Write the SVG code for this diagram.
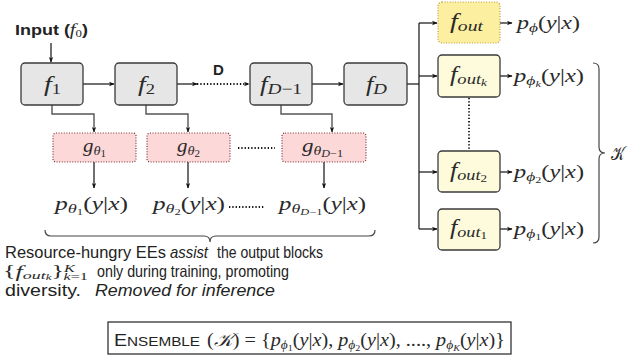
<svg xmlns="http://www.w3.org/2000/svg" width="637" height="360" viewBox="0 0 637 360">
<style>
.fb{fill:#e6e6e6;stroke:#3a3a3a;stroke-width:1.3}
.gb{fill:#fdd8d8;stroke:#7a3030;stroke-width:1.2;stroke-dasharray:1,1.6}
.ob{fill:#fdfbdc;stroke:#3a3a3a;stroke-width:1.3}
.ot{fill:#fcef9f;stroke:#b89c3c;stroke-width:1.2;stroke-dasharray:1,1.6}
.m{font-family:"Liberation Serif","DejaVu Serif",serif;font-style:italic;fill:#2a2a2a}
.r{font-family:"Liberation Serif","DejaVu Serif",serif;font-style:normal;fill:#2a2a2a}
.s{font-family:"Liberation Sans","DejaVu Sans",sans-serif;fill:#222}
.c{fill:none;stroke:#111;stroke-width:1.2}
.g{fill:none;stroke:#555;stroke-width:1.4}
.dt{fill:none;stroke:#111;stroke-width:1.8;stroke-dasharray:1.3,2}
</style>
<defs>
<marker id="ah" viewBox="0 0 10 10" refX="9" refY="5" markerWidth="5.5" markerHeight="5.5" orient="auto" markerUnits="userSpaceOnUse">
<path d="M0,1 L10,5 L0,9 L2.5,5 Z" fill="#111"/>
</marker>
</defs>

<g id="input-label">
<text x="15" y="35" class="s" font-size="14" font-weight="bold" textLength="73" lengthAdjust="spacingAndGlyphs">Input (<tspan class="m" font-weight="normal" font-size="16">f</tspan><tspan class="r" font-weight="normal" font-size="10" dy="2">0</tspan><tspan dy="-2">)</tspan></text>
</g>

<g id="connectors">
<line x1="51" y1="43" x2="51" y2="62" class="c" marker-end="url(#ah)"/>
<line x1="83" y1="84" x2="114" y2="84" class="c" marker-end="url(#ah)"/>
<line x1="177" y1="84" x2="197" y2="84" class="c" marker-end="url(#ah)"/>
<line x1="197" y1="84" x2="249" y2="84" class="dt" marker-end="url(#ah)"/>
<line x1="312" y1="84" x2="343" y2="84" class="c" marker-end="url(#ah)"/>
<polyline points="52,105 52,114 94,114 94,132" class="g" marker-end="url(#ah)"/>
<polyline points="146,105 146,114 188,114 188,132" class="g" marker-end="url(#ah)"/>
<polyline points="281,105 281,114 332,114 332,132" class="g" marker-end="url(#ah)"/>
<line x1="94" y1="162" x2="94" y2="188" class="c" marker-end="url(#ah)"/>
<line x1="188" y1="162" x2="188" y2="188" class="c" marker-end="url(#ah)"/>
<line x1="324" y1="162" x2="324" y2="188" class="c" marker-end="url(#ah)"/>
<line x1="238" y1="148" x2="275" y2="148" class="dt"/>
<line x1="229" y1="207" x2="264" y2="207" class="dt"/>
<polyline points="407,84 419,84" class="c"/>
<line x1="419" y1="23" x2="419" y2="229" class="c"/>
<line x1="419" y1="23" x2="437" y2="23" class="c" marker-end="url(#ah)"/>
<line x1="419" y1="76" x2="437" y2="76" class="c" marker-end="url(#ah)"/>
<line x1="419" y1="172" x2="437" y2="172" class="c" marker-end="url(#ah)"/>
<line x1="419" y1="229" x2="437" y2="229" class="c" marker-end="url(#ah)"/>
<line x1="500" y1="23" x2="512" y2="23" class="c" marker-end="url(#ah)"/>
<line x1="500" y1="76" x2="512" y2="76" class="c" marker-end="url(#ah)"/>
<line x1="500" y1="172" x2="512" y2="172" class="c" marker-end="url(#ah)"/>
<line x1="500" y1="229" x2="512" y2="229" class="c" marker-end="url(#ah)"/>
<line x1="469" y1="98" x2="469" y2="150" class="dt" stroke-width="2.2"/>
</g>

<text x="213" y="75" class="s" font-size="15" font-weight="bold">D</text>

<g id="f1"><rect x="21" y="63" width="62" height="42" rx="4" class="fb"/>
<text x="44" y="91" class="m" font-size="21" textLength="17" lengthAdjust="spacingAndGlyphs">f<tspan class="r" font-size="14" dy="3">1</tspan></text></g>
<g id="f2"><rect x="115" y="63" width="62" height="42" rx="4" class="fb"/>
<text x="138" y="91" class="m" font-size="21" textLength="17" lengthAdjust="spacingAndGlyphs">f<tspan class="r" font-size="14" dy="3">2</tspan></text></g>
<g id="fD-1"><rect x="250" y="63" width="62" height="42" rx="4" class="fb"/>
<text x="260" y="91" class="m" font-size="21" textLength="42" lengthAdjust="spacingAndGlyphs">f<tspan font-size="15" dy="3">D</tspan><tspan class="r" font-size="15">−1</tspan></text></g>
<g id="fD"><rect x="344" y="63" width="63" height="42" rx="4" class="fb"/>
<text x="366" y="91" class="m" font-size="21" textLength="21" lengthAdjust="spacingAndGlyphs">f<tspan font-size="15" dy="3">D</tspan></text></g>

<g id="g1"><rect x="53" y="133" width="83" height="29" rx="3" class="gb"/>
<text x="83" y="152" class="m" font-size="19" textLength="23" lengthAdjust="spacingAndGlyphs">g<tspan font-size="13" dy="3">θ</tspan><tspan class="r" font-size="10" dy="2">1</tspan></text></g>
<g id="g2"><rect x="147" y="133" width="83" height="29" rx="3" class="gb"/>
<text x="177" y="152" class="m" font-size="19" textLength="23" lengthAdjust="spacingAndGlyphs">g<tspan font-size="13" dy="3">θ</tspan><tspan class="r" font-size="10" dy="2">2</tspan></text></g>
<g id="gD-1"><rect x="282" y="133" width="84" height="29" rx="3" class="gb"/>
<text x="302" y="152" class="m" font-size="19" textLength="41" lengthAdjust="spacingAndGlyphs">g<tspan font-size="13" dy="3">θ</tspan><tspan font-size="10" dy="2">D</tspan><tspan class="r" font-size="10">−1</tspan></text></g>

<g id="p-theta">
<text x="55" y="210" class="m" font-size="18" textLength="73" lengthAdjust="spacingAndGlyphs">p<tspan font-size="13" dy="3">θ</tspan><tspan class="r" font-size="9" dy="2">1</tspan><tspan class="r" dy="-5">(</tspan>y<tspan class="r">|</tspan>x<tspan class="r">)</tspan></text>
<text x="153" y="210" class="m" font-size="18" textLength="72" lengthAdjust="spacingAndGlyphs">p<tspan font-size="13" dy="3">θ</tspan><tspan class="r" font-size="9" dy="2">2</tspan><tspan class="r" dy="-5">(</tspan>y<tspan class="r">|</tspan>x<tspan class="r">)</tspan></text>
<text x="279" y="210" class="m" font-size="18" textLength="87" lengthAdjust="spacingAndGlyphs">p<tspan font-size="13" dy="3">θ</tspan><tspan font-size="9" dy="2">D</tspan><tspan class="r" font-size="9">−1</tspan><tspan class="r" dy="-5">(</tspan>y<tspan class="r">|</tspan>x<tspan class="r">)</tspan></text>
</g>

<g id="fout"><rect x="438" y="2" width="62" height="41" rx="4" class="ot"/>
<text x="450" y="28" class="m" font-size="20" textLength="33" lengthAdjust="spacingAndGlyphs">f<tspan font-size="14" dy="3">out</tspan></text></g>
<g id="foutk"><rect x="438" y="55" width="62" height="42" rx="4" class="ob"/>
<text x="450" y="81" class="m" font-size="20" textLength="37" lengthAdjust="spacingAndGlyphs">f<tspan font-size="14" dy="3">out</tspan><tspan font-size="10" dy="2">k</tspan></text></g>
<g id="fout2"><rect x="438" y="151" width="62" height="41" rx="4" class="ob"/>
<text x="450" y="177" class="m" font-size="20" textLength="37" lengthAdjust="spacingAndGlyphs">f<tspan font-size="14" dy="3">out</tspan><tspan class="r" font-size="10" dy="2">2</tspan></text></g>
<g id="fout1"><rect x="438" y="209" width="62" height="41" rx="4" class="ob"/>
<text x="450" y="234" class="m" font-size="20" textLength="37" lengthAdjust="spacingAndGlyphs">f<tspan font-size="14" dy="3">out</tspan><tspan class="r" font-size="10" dy="2">1</tspan></text></g>

<g id="p-phi">
<text x="517" y="29" class="m" font-size="18" textLength="63" lengthAdjust="spacingAndGlyphs">p<tspan font-size="13" dy="3">ϕ</tspan><tspan class="r" dy="-3">(</tspan>y<tspan class="r">|</tspan>x<tspan class="r">)</tspan></text>
<text x="514" y="82" class="m" font-size="18" textLength="70" lengthAdjust="spacingAndGlyphs">p<tspan font-size="13" dy="3">ϕ</tspan><tspan font-size="9" dy="2">k</tspan><tspan class="r" dy="-5">(</tspan>y<tspan class="r">|</tspan>x<tspan class="r">)</tspan></text>
<text x="514" y="178" class="m" font-size="18" textLength="70" lengthAdjust="spacingAndGlyphs">p<tspan font-size="13" dy="3">ϕ</tspan><tspan class="r" font-size="9" dy="2">2</tspan><tspan class="r" dy="-5">(</tspan>y<tspan class="r">|</tspan>x<tspan class="r">)</tspan></text>
<text x="514" y="235" class="m" font-size="18" textLength="70" lengthAdjust="spacingAndGlyphs">p<tspan font-size="13" dy="3">ϕ</tspan><tspan class="r" font-size="9" dy="2">1</tspan><tspan class="r" dy="-5">(</tspan>y<tspan class="r">|</tspan>x<tspan class="r">)</tspan></text>
</g>

<g id="braces">
<path d="M593,63 Q599,63 599,69 L599,147 Q599,153 605,153 Q599,153 599,159 L599,237 Q599,243 593,243" fill="none" stroke="#444" stroke-width="1.2"/>
<text x="611" y="160" class="r" font-size="19" textLength="14" lengthAdjust="spacingAndGlyphs">𝒦</text>
<path d="M45,230 Q45,236 51,236 L204,236 Q210,236 210,242 Q210,236 216,236 L369,236 Q375,236 375,230" fill="none" stroke="#444" stroke-width="1.2"/>
</g>

<g id="caption">
<text x="5" y="258" class="s" font-size="16.5" textLength="161" lengthAdjust="spacingAndGlyphs">Resource-hungry EEs</text>
<text x="170" y="258" class="s" font-size="16.5" font-style="italic" textLength="38" lengthAdjust="spacingAndGlyphs">assist</text>
<text x="217" y="258" class="s" font-size="16.5" textLength="106" lengthAdjust="spacingAndGlyphs">the output blocks</text>
<text x="3" y="277" class="r" font-size="16" textLength="85" lengthAdjust="spacingAndGlyphs">{<tspan class="m">f</tspan><tspan class="m" font-size="11" dy="2">out</tspan><tspan class="m" font-size="8" dy="1">k</tspan><tspan dy="-3">}</tspan><tspan class="m" font-size="10" dy="-5">K</tspan><tspan class="m" font-size="10" dx="-7" dy="8">k</tspan><tspan font-size="10">=1</tspan></text>
<text x="97" y="277" class="s" font-size="16.5" textLength="192" lengthAdjust="spacingAndGlyphs">only during training, promoting</text>
<text x="5" y="296" class="s" font-size="16.5" textLength="76" lengthAdjust="spacingAndGlyphs">diversity.</text>
<text x="95" y="296" class="s" font-size="16.5" font-style="italic" textLength="180" lengthAdjust="spacingAndGlyphs">Removed for inference</text>
</g>

<g id="ensemble">
<rect x="108" y="322" width="403" height="32" fill="#fff" stroke="#222" stroke-width="1.2"/>
<text x="114" y="346" class="s" font-size="16" textLength="86" lengthAdjust="spacingAndGlyphs">E<tspan font-size="12.5">NSEMBLE</tspan></text>
<text x="207" y="346" class="r" font-size="18" textLength="298" lengthAdjust="spacingAndGlyphs">(<tspan class="m">𝒦</tspan>) = {<tspan class="m">p</tspan><tspan class="m" font-size="12" dy="3">ϕ</tspan><tspan font-size="9" dy="2">1</tspan><tspan dy="-5">(</tspan><tspan class="m">y</tspan>|<tspan class="m">x</tspan>), <tspan class="m">p</tspan><tspan class="m" font-size="12" dy="3">ϕ</tspan><tspan font-size="9" dy="2">2</tspan><tspan dy="-5">(</tspan><tspan class="m">y</tspan>|<tspan class="m">x</tspan>), ...., <tspan class="m">p</tspan><tspan class="m" font-size="12" dy="3">ϕ</tspan><tspan class="m" font-size="9" dy="2">K</tspan><tspan dy="-5">(</tspan><tspan class="m">y</tspan>|<tspan class="m">x</tspan>)}</text>
</g>
</svg>
